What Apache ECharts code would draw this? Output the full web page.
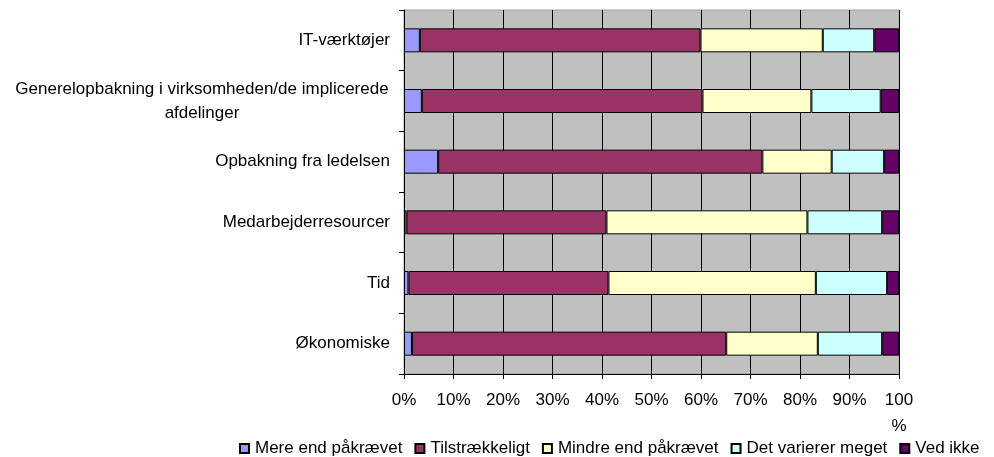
<!DOCTYPE html>
<html>
<head>
<meta charset="utf-8">
<title>Ressourcer</title>
<script src="https://cdn.jsdelivr.net/npm/echarts@6/dist/echarts.min.js"></script>
<style>
  html, body { margin: 0; padding: 0; background: #fff; }
  #chart { width: 994px; height: 457px; }
</style>
</head>
<body>
<div id="chart"></div>
<script>
// kategorier (oppefra og ned)
const categories = ['IT-værktøjer', 'Generelopbakning i virksomheden/de implicerede\nafdelinger', 'Opbakning fra ledelsen', 'Medarbejderresourcer', 'Tid', 'Økonomiske']
// andele i procent pr. svarmulighed
const mereEnd = [3.2, 3.6, 6.9, 0.5, 0.9, 1.6]
const tilstraekkeligt = [56.7, 56.7, 65.5, 40.4, 40.4, 63.5]
const mindreEnd = [24.7, 22.0, 14.0, 40.6, 41.9, 18.5]
const varierer = [10.4, 14.0, 10.6, 15.1, 14.4, 13.0]
const vedIkke = [5.0, 3.7, 3.0, 3.4, 2.4, 3.4]
const seriesNames = ['Mere end påkrævet', 'Tilstrækkeligt', 'Mindre end påkrævet', 'Det varierer meget', 'Ved ikke']
const seriesColors = ['#9999FF', '#993366', '#FFFFCC', '#CCFFFF', '#660066']
const xTicks = [0, 10, 20, 30, 40, 50, 60, 70, 80, 90, 100]

const font = "'Liberation Sans', Arial, sans-serif"
const chart = echarts.init(document.getElementById('chart'))

const makeSeries = (name, data, i) => ({
  name: name,
  type: 'bar',
  stack: 'total',
  data: data,
  barWidth: 24,
  itemStyle: {
    color: seriesColors[i],
    borderColor: '#000',
    borderWidth: 1,
  },
  emphasis: { disabled: true },
})

const option = {
  animation: false,
  textStyle: { fontFamily: font, color: '#000' },
  grid: {
    left: 404,
    right: 95,
    top: 10,
    bottom: 83,
    show: true,
    backgroundColor: '#C0C0C0',
    borderColor: '#A0A0A0',
    borderWidth: 1,
  },
  xAxis: {
    type: 'value',
    min: xTicks[0],
    max: xTicks[xTicks.length - 1],
    interval: 10,
    axisLine: { show: true, lineStyle: { color: '#000' } },
    axisTick: { show: true, length: 5, lineStyle: { color: '#000' } },
    splitLine: { show: true, lineStyle: { color: '#000', width: 1 } },
    axisLabel: {
      fontFamily: font,
      fontSize: 17,
      color: '#000',
      margin: 13,
      lineHeight: 26,
      formatter: (v) => (v === 100 ? '100\n%' : v + '%'),
    },
  },
  yAxis: {
    type: 'category',
    inverse: true,
    data: categories,
    axisLine: { show: true, lineStyle: { color: '#000' } },
    axisTick: { show: true, length: 5, lineStyle: { color: '#000' } },
    splitLine: { show: false },
    axisLabel: {
      fontFamily: font,
      fontSize: 17,
      color: '#000',
      margin: 14,
      lineHeight: 24,
      formatter: (v) => {
        if (v.indexOf('\n') < 0) return v
        // anden linje centreres under første
        return v.split('\n').map((s) => '{c|' + s + '}').join('\n')
      },
      rich: {
        c: { width: 376, align: 'center', fontSize: 17, lineHeight: 24, fontFamily: font, color: '#000' },
      },
    },
  },
  legend: {
    left: 239,
    top: 440,
    padding: 0,
    icon: 'rect',
    itemWidth: 9,
    itemHeight: 9,
    itemGap: 12,
    textStyle: { fontFamily: font, fontSize: 17, color: '#000', padding: [0, 0, 0, 1] },
    data: seriesNames,
  },
  series: [
    makeSeries(seriesNames[0], mereEnd, 0),
    makeSeries(seriesNames[1], tilstraekkeligt, 1),
    makeSeries(seriesNames[2], mindreEnd, 2),
    makeSeries(seriesNames[3], varierer, 3),
    makeSeries(seriesNames[4], vedIkke, 4),
  ],
}
chart.setOption(option)
</script>
</body>
</html>
